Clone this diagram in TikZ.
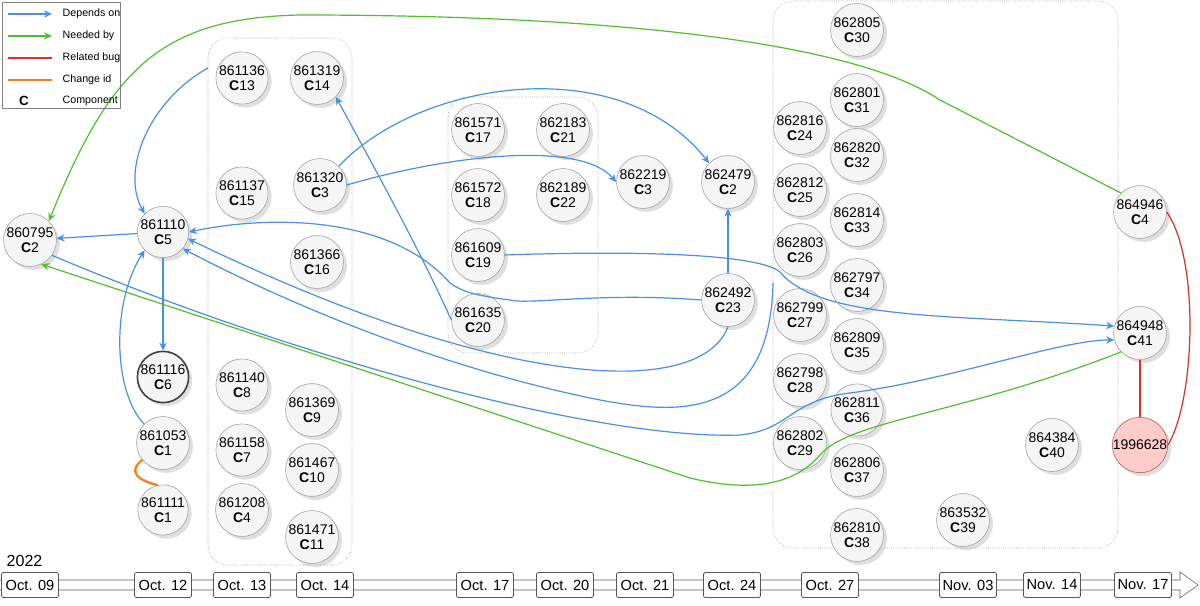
\documentclass[tikz,border=0pt]{standalone}
\usepackage{fontspec}
\setmainfont{Liberation Sans}
\usetikzlibrary{arrows.meta, shadows}
\definecolor{depblue}{RGB}{74,144,226}
\definecolor{needgreen}{RGB}{82,190,45}
\definecolor{bugred}{RGB}{214,48,40}
\definecolor{chgorange}{RGB}{240,130,40}
\tikzset{
  font=\fontsize{10.5}{11.5}\selectfont,
  % Set arrowhead
  >={Stealth[length=6pt, width=5.5pt]},
  % Change node
  cmp/.style={draw=gray!80, fill=gray!8, shape=circle, minimum size=33pt,
    inner sep=0pt, align=center, drop shadow={opacity=0.25}},
  % Date box
  day/.style={draw, fill=white, rounded corners=2pt, minimum width=43pt,
    minimum height=19pt, inner sep=1pt, font=\fontsize{11}{12}\selectfont},
  % Edges
  dep/.style={->, depblue, line width=0.9pt},
  need/.style={->, needgreen, line width=0.9pt},
  bug/.style={bugred, line width=0.9pt},
  chg/.style={chgorange, line width=1.8pt},
  group/.style={draw=gray!90, densely dotted, rounded corners=15pt},
}
\begin{document}
\begin{tikzpicture}[x=0.75pt, y=-0.75pt]
  \useasboundingbox (0,0) rectangle (1200,606);

  % groups
  \draw[group] (208,38) rectangle (352,565);
  \draw[group] (448,97) rectangle (598,353);
  \draw[group] (773,1) rectangle (1118,548);

  % changes
  \foreach \id/\x/\y/\c in {860795/30/240/2, 861110/163/232/5, 861053/163/443/1,
      861111/163/510/1, 861136/242/78/13, 861137/242/193/15, 861140/242/385/8,
      861158/242/450/7, 861208/242/510/4, 861319/317/78/14, 861320/320/185/3,
      861366/317/262/16, 861369/312/410/9, 861467/312/470/10, 861471/312/537/11,
      861571/478/130/17, 861572/478/195/18, 861609/478/255/19, 861635/478/320/20,
      862183/563/130/21, 862189/563/195/22, 862219/643/182/3, 862479/728/182/2,
      862492/728/300/23, 862816/800/128/24, 862812/800/190/25, 862803/800/250/26,
      862799/800/315/27, 862798/800/380/28, 862802/800/443/29, 862805/857/30/30,
      862801/857/100/31, 862820/857/155/32, 862814/857/220/33, 862797/857/285/34,
      862809/857/345/35, 862811/857/410/36, 862806/857/470/37, 862810/857/535/38,
      863532/963/520/39, 864384/1052/445/40, 864946/1140/212/4, 864948/1140/333/41}
    \node[cmp] (n\id) at (\x,\y) {\id\\\textbf{C}\c};
  \node[cmp, draw=black!75, line width=1.2pt] (n861116) at (163,377)
    {861116\\\textbf{C}6};
  \node[cmp, fill=red!20, draw=red!40!gray] (n1996628) at (1140,445) {1996628};

  % depends on
  \coordinate (g1) at (208,68);
  \coordinate (g3) at (773,283);
  \draw[dep] (n861110) -- (n860795);
  \draw[dep] (n861110) -- (n861116);
  \draw[dep] (n861053.north west) .. controls (112,390) and (112,300) .. (n861110.south west);
  \draw[dep] (g1) .. controls (150,100) and (120,170) .. (n861110.north west);
  \draw[dep] (n861320.north east) .. controls (420,80) and (620,50) .. (n862479.north west);
  \draw[dep] (n861320.east) .. controls (450,155) and (580,140) .. (n862219.west);
  \draw[dep] (n861635.west) .. controls (420,250) and (370,160) .. (n861319.south east);
  \draw[dep] (n862492) -- (n862479);
  \draw[dep] (n862492.west) .. controls (600,292) and (530,305) .. (510,300)
    .. controls (470,295) and (460,290) .. (450,283)
    .. controls (390,215) and (270,215) .. (n861110.east);
  \draw[dep] (n862492.south) .. controls (700,400) and (500,390) .. (n861110.-15);
  \draw[dep] (g3) .. controls (770,420) and (680,415) .. (600,400)
    .. controls (450,370) and (300,310) .. (n861110.-40);
  \draw[dep] (n860795.-35) .. controls (300,360) and (600,440) .. (740,435)
    .. controls (790,430) and (790,400) .. (850,393) .. controls (950,380) and (1060,340) .. (n864948.195);
  \draw[dep] (n861609.east) .. controls (650,250) and (760,255) .. (780,272)
    .. controls (820,320) and (950,315) .. (n864948.165);

  % needed by
  \draw[need] (n864946.north west) -- (940,100) .. controls (850,40) and (600,15) .. (300,15)
    .. controls (160,18) and (110,70) .. (n860795.north east);
  \draw[need] (n864948.south west) .. controls (960,415) and (850,420) .. (820,455)
    .. controls (790,490) and (740,490) .. (690,478) -- (n860795.-65);

  % related bug and change id
  \draw[bug] (n864946.east) .. controls (1200,260) and (1195,400) .. (n1996628.east);
  \draw[bug] (n864948) -- (n1996628);
  \draw[chg] (n861053) .. controls (120,478) and (158,485) .. (n861111);

  % legend
  \draw[gray] (2,2) rectangle (120,108);
  \foreach \y/\s/\t in {14/dep/Depends on, 36/need/Needed by, 58/bug/Related bug} {
    \draw[\s, line width=1.1pt] (8,\y) -- (52,\y);
    \node[anchor=west, font=\fontsize{8}{9}\selectfont] at (58,\y) {\t};
  }
  \draw[chg, line width=1.1pt] (8,80) -- (52,80);
  \node[anchor=west, font=\fontsize{8}{9}\selectfont] at (58,80) {Change id};
  \node[font=\bfseries] at (24,101) {C};
  \node[anchor=west, font=\fontsize{8}{9}\selectfont] at (58,101) {Component};

  % time line
  \draw[gray!70!black] (0,580) -- (1180,580) -- (1180,572) -- (1198,585)
    -- (1180,598) -- (1180,590) -- (0,590);
  \node[anchor=south west, font=\fontsize{12}{13}\selectfont] (year) at (2,571) {2022};
  \foreach \x/\d in {30/Oct. 09, 163/Oct. 12, 242/Oct. 13, 325/Oct. 14,
      485/Oct. 17, 565/Oct. 20, 645/Oct. 21, 732/Oct. 24, 830/Oct. 27,
      968/Nov. 03, 1052/Nov. 14, 1143/Nov. 17}
    \node[day] at (\x,585) {\d};
\end{tikzpicture}
\end{document}
